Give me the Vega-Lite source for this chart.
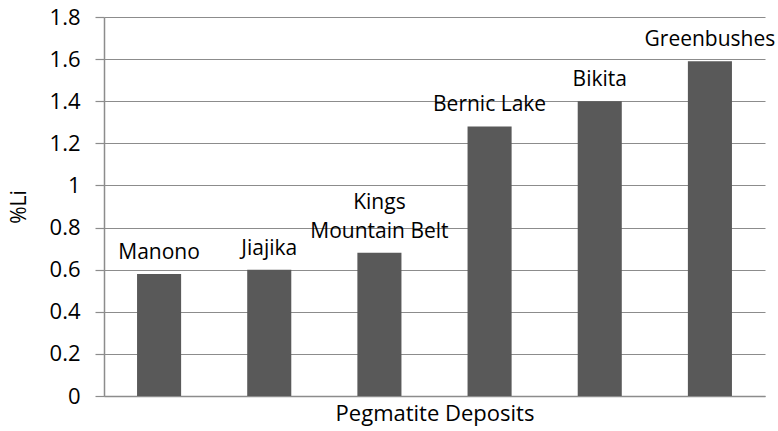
{
  "$schema": "https://vega.github.io/schema/vega-lite/v6.json",
  "width": 661,
  "height": 379,
  "autosize": {"type": "none"},
  "padding": {"left": 104, "top": 17, "right": 13, "bottom": 35},
  "background": "white",
  "config": {"view": {"stroke": null}, "font": "Open Sans"},
  "data": {
    "values": [
      {"deposit": "Manono", "li": 0.58, "line1": "", "line2": "Manono"},
      {"deposit": "Jiajika", "li": 0.6, "line1": "", "line2": "Jiajika"},
      {"deposit": "Kings Mountain Belt", "li": 0.68, "line1": "Kings", "line2": "Mountain Belt"},
      {"deposit": "Bernic Lake", "li": 1.28, "line1": "", "line2": "Bernic Lake"},
      {"deposit": "Bikita", "li": 1.4, "line1": "", "line2": "Bikita"},
      {"deposit": "Greenbushes", "li": 1.59, "line1": "", "line2": "Greenbushes"}
    ]
  },
  "encoding": {
    "x": {
      "field": "deposit",
      "type": "nominal",
      "sort": null,
      "scale": {"paddingInner": 0.6, "paddingOuter": 0.3},
      "axis": {
        "title": "Pegmatite Deposits",
        "labels": false,
        "ticks": false,
        "domain": true,
        "domainColor": "#8c8c8c",
        "domainWidth": 1.5,
        "titleFont": "Open Sans",
        "titleFontSize": 22,
        "titleFontWeight": "normal",
        "titleColor": "#000000",
        "titlePadding": 7
      }
    },
    "y": {
      "field": "li",
      "type": "quantitative",
      "scale": {"domain": [0, 1.8], "nice": false},
      "axis": {
        "title": "%Li",
        "values": [0, 0.2, 0.4, 0.6, 0.8, 1, 1.2, 1.4, 1.6, 1.8],
        "format": "~g",
        "grid": true,
        "gridColor": "#8c8c8c",
        "gridWidth": 1.2,
        "domainColor": "#8c8c8c",
        "domainWidth": 1.5,
        "tickColor": "#8c8c8c",
        "tickSize": 9,
        "tickWidth": 1.2,
        "labelFont": "Open Sans",
        "labelFontSize": 22,
        "labelColor": "#000000",
        "labelPadding": 15,
        "titleFont": "Open Sans",
        "titleFontSize": 21,
        "titleFontWeight": "normal",
        "titleColor": "#000000",
        "titlePadding": 20
      }
    }
  },
  "layer": [
    {"mark": {"type": "bar", "color": "#595959"}},
    {
      "mark": {"type": "text", "baseline": "alphabetic", "dy": -15, "fontSize": 21, "font": "Open Sans", "color": "#000000"},
      "encoding": {"text": {"field": "line2"}}
    },
    {
      "mark": {"type": "text", "baseline": "alphabetic", "dy": -44, "fontSize": 21, "font": "Open Sans", "color": "#000000"},
      "encoding": {"text": {"field": "line1"}}
    }
  ]
}
